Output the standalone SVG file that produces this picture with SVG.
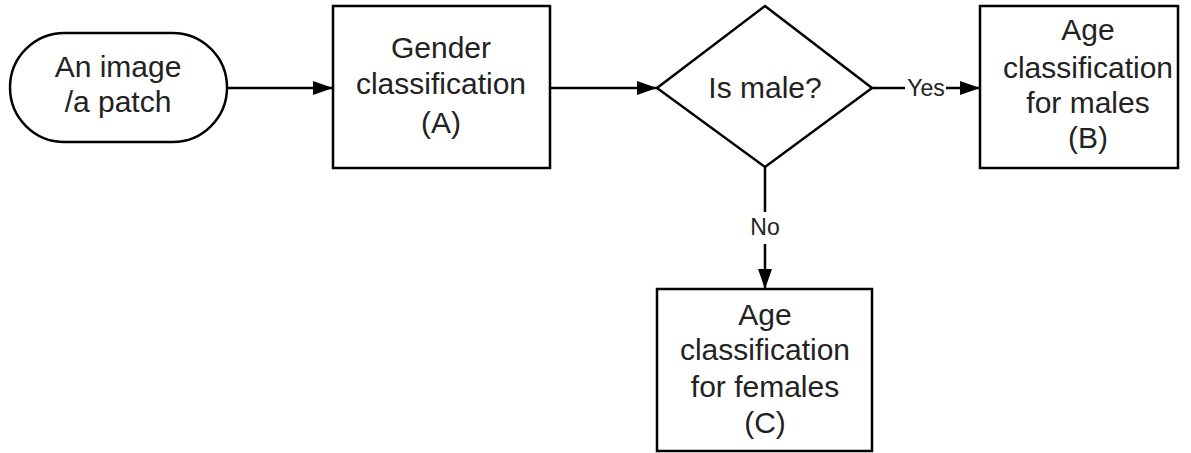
<svg xmlns="http://www.w3.org/2000/svg" width="1191" height="453" viewBox="0 0 1191 453">
<style>
.shape{fill:#fff;stroke:#000;stroke-width:2.5}
.t{font-family:"Liberation Sans",Arial,sans-serif;font-size:30px;fill:#222;text-anchor:middle}
.lbl{font-family:"Liberation Sans",Arial,sans-serif;font-size:23px;fill:#222;text-anchor:middle}
.edge{stroke:#000;stroke-width:2.5;fill:none}
</style>
<defs>
<marker id="arr" viewBox="0 0 20 14" refX="20" refY="7" markerWidth="20" markerHeight="14" markerUnits="userSpaceOnUse" orient="auto">
<path d="M0,0 L20,7 L0,14 Z" fill="#000"/>
</marker>
</defs>
<rect width="1191" height="453" fill="#fff"/>
<g id="connectors">
<line class="edge" x1="228" y1="88" x2="333" y2="88" marker-end="url(#arr)"/>
<line class="edge" x1="550" y1="88" x2="657" y2="88" marker-end="url(#arr)"/>
<line class="edge" x1="872" y1="88" x2="905" y2="88"/>
<line class="edge" x1="946" y1="88" x2="980" y2="88" marker-end="url(#arr)"/>
<text class="lbl" x="926" y="96">Yes</text>
<line class="edge" x1="765" y1="167" x2="765" y2="212"/>
<line class="edge" x1="765" y1="244" x2="765" y2="289" marker-end="url(#arr)"/>
<text class="lbl" x="765" y="235">No</text>
</g>
<g id="start">
<rect class="shape" x="10" y="33" width="217" height="109" rx="54.5" ry="54.5"/>
<text class="t" x="118" y="77">An image</text>
<text class="t" x="118" y="112">/a patch</text>
</g>
<g id="gender">
<rect class="shape" x="333" y="6" width="217" height="162"/>
<text class="t" x="441" y="58">Gender</text>
<text class="t" x="441" y="94">classification</text>
<text class="t" x="441" y="133">(A)</text>
</g>
<g id="decision">
<polygon class="shape" points="765,6 872,88 765,167 657,88"/>
<text class="t" x="765" y="98">Is male?</text>
</g>
<g id="males">
<rect class="shape" x="980" y="6" width="198" height="162"/>
<text class="t" x="1088" y="40">Age</text>
<text class="t" x="1088" y="78">classification</text>
<text class="t" x="1088" y="113">for males</text>
<text class="t" x="1088" y="148">(B)</text>
</g>
<g id="females">
<rect class="shape" x="657" y="289" width="215" height="162"/>
<text class="t" x="765" y="325">Age</text>
<text class="t" x="765" y="360">classification</text>
<text class="t" x="765" y="397">for females</text>
<text class="t" x="765" y="433">(C)</text>
</g>
</svg>
